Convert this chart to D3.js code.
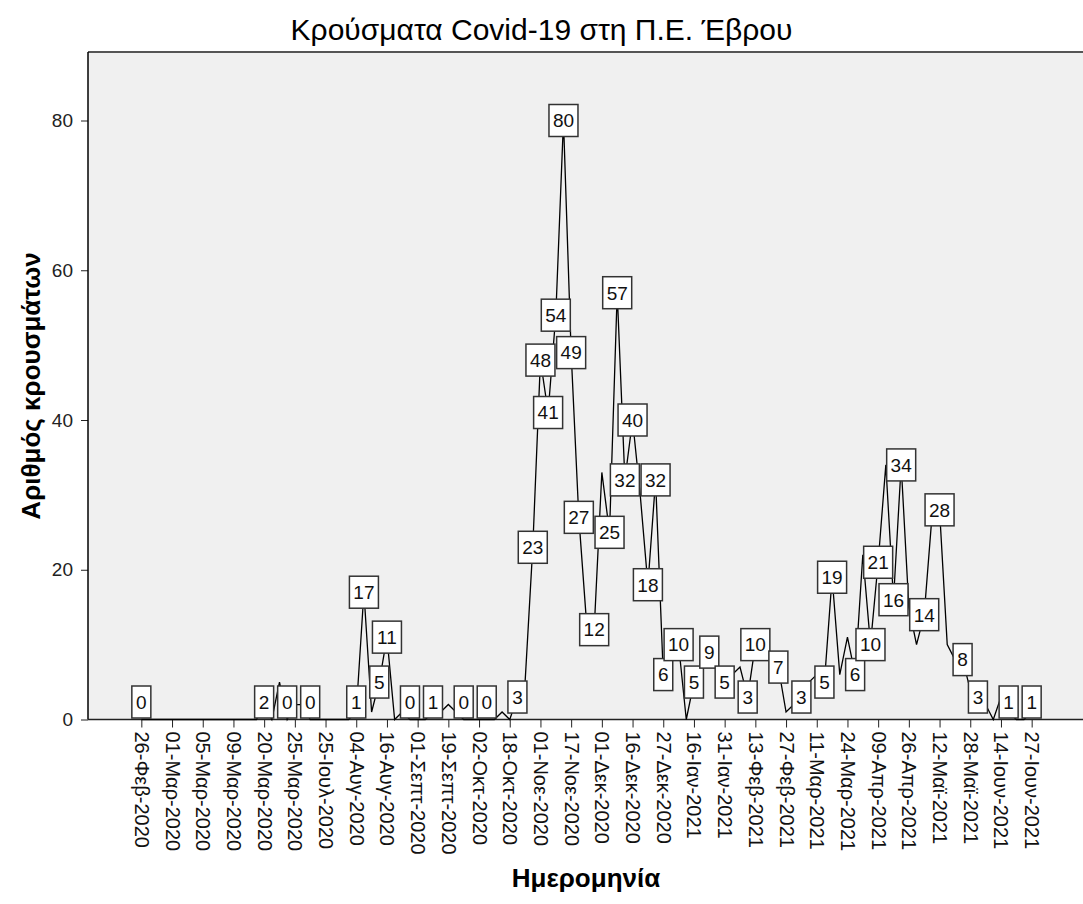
<!DOCTYPE html>
<html>
<head>
<meta charset="utf-8">
<script src="https://cdn.jsdelivr.net/npm/d3@7"></script>
<style>
body{margin:0;background:#fff;}
svg text{font-family:"Liberation Sans",Arial,sans-serif;}
</style>
</head>
<body>
<svg id="chart" width="1083" height="904"></svg>
<script>
// tick labels, one every 4 cases
const tickLabels=["26-Φεβ-2020","01-Μαρ-2020","05-Μαρ-2020","09-Μαρ-2020","20-Μαρ-2020","25-Μαρ-2020",
  "25-Ιουλ-2020","04-Αυγ-2020","16-Αυγ-2020","01-Σεπτ-2020","19-Σεπτ-2020","02-Οκτ-2020","18-Οκτ-2020",
  "01-Νοε-2020","17-Νοε-2020","01-Δεκ-2020","16-Δεκ-2020","27-Δεκ-2020","16-Ιαν-2021","31-Ιαν-2021",
  "13-Φεβ-2021","27-Φεβ-2021","11-Μαρ-2021","24-Μαρ-2021","09-Απρ-2021","26-Απρ-2021","12-Μαϊ-2021",
  "28-Μαϊ-2021","14-Ιουν-2021","27-Ιουν-2021"];
const tickEvery=4;

// daily cases (one per reported date)
const cases=[0,0,0,0,0,0,0,0,0,0,0,0,0,0,0,0,2,0,5,0,
  2,2,0,0,0,0,0,0,1,17,1,5,11,0,1,0,0,0,1,1,
  2,1,0,0,0,0,0,1,0,3,5,23,48,41,54,80,49,27,13,12,
  33,25,57,32,40,30,18,32,6,8,10,0,5,7,9,7,5,6,7,3,
  10,9,8,7,1,2,3,5,6,5,19,6,11,6,22,10,21,34,16,34,
  15,10,14,27,28,10,8,8,4,3,2,0,3,1,0,0,1];

// cases that carry a value label
const labelled=[0,16,19,22,28,29,31,32,35,38,42,45,49,51,52,53,54,55,56,57,59,61,62,63,64,66,67,68,
  70,72,74,76,79,80,83,86,89,90,93,95,96,98,99,102,104,107,109,113,116];

const yTicks=[0,20,40,60,80];

const pLeft=88,pRight=1085,pTop=52,pBottom=719.5;
const font="'Liberation Sans',Arial,sans-serif";
let svg=d3.select("#chart");

let x=d3.scalePoint()
  .domain(d3.range(cases.length))
  .range([pLeft,pRight])
  .padding(6.95);
let y=d3.scaleLinear().domain([0,80]).range([pBottom,120.5]);

// plot area
svg.append("rect")
  .attr("x",pLeft)
  .attr("y",pTop)
  .attr("width",pRight-pLeft)
  .attr("height",pBottom-pTop)
  .attr("fill","#f0f0f0");
svg.append("line")
  .attr("x1",pLeft).attr("x2",pRight)
  .attr("y1",pTop).attr("y2",pTop)
  .attr("stroke","#555")
  .attr("stroke-width",2);

// y axis
let yAxis=svg.append("g")
  .attr("transform",`translate(${pLeft},0)`)
  .call(d3.axisLeft(y).tickValues(yTicks).tickSize(7).tickPadding(8));
yAxis.select(".domain").remove();
yAxis.selectAll("line").attr("stroke","#222");
yAxis.selectAll("text")
  .attr("font-size",19)
  .attr("fill","#222")
  .style("font-family",font);
svg.append("line")
  .attr("x1",pLeft).attr("x2",pLeft)
  .attr("y1",pTop).attr("y2",pBottom)
  .attr("stroke","#000")
  .attr("stroke-width",1.5);

// x axis
let xAxis=svg.append("g")
  .attr("transform",`translate(0,${pBottom})`)
  .call(d3.axisBottom(x)
    .tickValues(tickLabels.map((d,i)=>i*tickEvery))
    .tickFormat((d)=>tickLabels[d/tickEvery])
    .tickSize(8));
xAxis.select(".domain").remove();
xAxis.selectAll("line").attr("stroke","#222");
xAxis.selectAll("text")
  .attr("transform","rotate(90)")
  .attr("x",12)
  .attr("y",0)
  .attr("dy","0.35em")
  .attr("font-size",20)
  .attr("fill","#111")
  .style("text-anchor","start")
  .style("font-family",font);
svg.append("line")
  .attr("x1",pLeft).attr("x2",pRight)
  .attr("y1",pBottom).attr("y2",pBottom)
  .attr("stroke","#222")
  .attr("stroke-width",1.5);

// the line
svg.append("path")
  .datum(cases)
  .attr("fill","none")
  .attr("stroke","#000")
  .attr("stroke-width",1.3)
  .attr("d",d3.line().x((d,i)=>x(i)).y((d)=>y(d)));

// value labels
let boxH=32;
let lab=svg.append("g")
  .selectAll("g")
  .data(labelled)
  .enter()
    .append("g")
    .attr("transform",(i)=>{
      let cy=Math.min(Math.max(y(cases[i]),pTop+boxH/2+1),pBottom-boxH/2-1.5);
      return `translate(${x(i)},${cy})`;
    });
lab.append("rect")
  .attr("x",(i)=>String(cases[i]).length>1?-14.5:-9.5)
  .attr("y",-boxH/2)
  .attr("width",(i)=>String(cases[i]).length>1?29:19)
  .attr("height",boxH)
  .attr("fill","#fff")
  .attr("stroke","#333")
  .attr("stroke-width",1.5);
lab.append("text")
  .attr("text-anchor","middle")
  .attr("dy","0.36em")
  .attr("font-size",19)
  .attr("fill","#111")
  .text((i)=>cases[i]);

// titles
svg.append("text")
  .attr("x",541.5)
  .attr("y",40)
  .attr("text-anchor","middle")
  .attr("font-size",30)
  .text("Κρούσματα Covid-19 στη Π.Ε. Έβρου");
svg.append("text")
  .attr("transform","translate(40,386) rotate(-90)")
  .attr("text-anchor","middle")
  .attr("font-size",26)
  .attr("font-weight","bold")
  .text("Αριθμός κρουσμάτων");
svg.append("text")
  .attr("x",586)
  .attr("y",887)
  .attr("text-anchor","middle")
  .attr("font-size",26)
  .attr("font-weight","bold")
  .text("Ημερομηνία");
</script>
</body>
</html>
